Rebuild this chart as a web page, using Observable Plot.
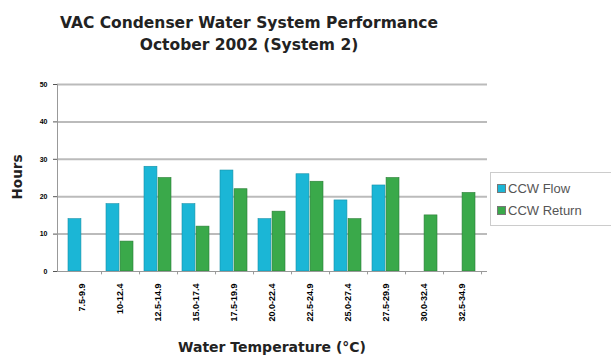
<!DOCTYPE html>
<html><head><meta charset="utf-8">
<script src="https://cdn.jsdelivr.net/npm/d3@7"></script>
<script src="https://cdn.jsdelivr.net/npm/@observablehq/plot@0.6"></script>
<style>
body{margin:0;background:#fff;font-family:"Liberation Sans",Arial,sans-serif;}
#wrap{position:relative;width:611px;height:356px;}
#title{position:absolute;left:0;width:498px;top:12px;text-align:center;font-family:"DejaVu Sans",sans-serif;font-weight:bold;font-size:15.5px;line-height:22px;color:#222;}
#legend{position:absolute;left:490px;top:172px;width:123px;height:54px;border:1px solid #ccc;box-sizing:border-box;font-size:13px;color:#555;padding-top:4px;}
#legend div{display:flex;align-items:center;height:22px;margin-left:6px;}
#legend span.sw{display:inline-block;width:7px;height:7px;margin-right:2px;border:1px solid #777;}
</style></head>
<body><div id="wrap">
<div id="title">VAC Condenser Water System Performance<br>October 2002 (System 2)</div>
<div id="chart"></div>
<div id="legend"></div>
</div>
<script>
const categories = ["7.5-9.9","10-12.4","12.5-14.9","15.0-17.4","17.5-19.9","20.0-22.4","22.5-24.9","25.0-27.4","27.5-29.9","30.0-32.4","32.5-34.9"];
const flow   = [14, 18, 28, 18, 27, 14, 26, 19, 23, null, null];
const ret    = [null, 8, 25, 12, 22, 16, 24, 14, 25, 15, 21];
const seriesNames = ["CCW Flow", "CCW Return"];
const seriesColors = ["#1bb6d6", "#3aa94a"];
const yTicks = [0, 10, 20, 30, 40, 50];

const flowData = categories.map((c, i) => ({cat: c, v: flow[i]})).filter(d => d.v != null);
const retData = categories.map((c, i) => ({cat: c, v: ret[i]})).filter(d => d.v != null);

const step = (611 - 57 - 124) / categories.length;
const bw = step * (1 - 0.28);
const half = bw / 2;

const plot = Plot.plot({
  width: 611, height: 356,
  marginLeft: 57, marginRight: 124, marginTop: 84, marginBottom: 85,
  style: {fontFamily: "Liberation Sans, Arial, sans-serif", background: "transparent"},
  x: {domain: categories, padding: 0.28, label: null},
  y: {domain: [0, 50], ticks: yTicks, label: null},
  marks: [
    Plot.ruleY(yTicks.filter(t => t > 0), {stroke: "#bbb", strokeWidth: 2}),
    Plot.barY(flowData, {x: "cat", y: "v", fill: seriesColors[0], stroke: "#1590a8", strokeWidth: 0.6, insetRight: half}),
    Plot.barY(retData, {x: "cat", y: "v", fill: seriesColors[1], stroke: "#2a7d36", strokeWidth: 0.6, insetLeft: half}),
    Plot.ruleY([0], {stroke: "#999", strokeWidth: 1}),
    Plot.ruleX(categories, {x: d => d, dx: step / 2, y1: 0, y2: -0.9, stroke: "#999"}),
    Plot.axisY({ticks: yTicks, tickSize: 4, tickPadding: 6, fontSize: 7, fontWeight: "bold", label: null, stroke: "#555"}),
    Plot.axisX({tickSize: 0, tickRotate: -90, tickPadding: 12, fontSize: 9, fontWeight: "bold", label: null}),
    Plot.frame({anchor: "left", stroke: "#999"})
  ]
});
document.getElementById("chart").appendChild(plot);

const svg = d3.select(plot);
svg.append("text").attr("x", 272).attr("y", 352).attr("text-anchor", "middle")
  .attr("font-family", "DejaVu Sans, sans-serif")
  .attr("font-size", 14).attr("font-weight", "bold").attr("fill", "#222").text("Water Temperature (°C)");
svg.append("text").attr("transform", "translate(22,177) rotate(-90)").attr("text-anchor", "middle")
  .attr("font-family", "DejaVu Sans, sans-serif")
  .attr("font-size", 13.5).attr("font-weight", "bold").attr("fill", "#222").text("Hours");

const lg = document.getElementById("legend");
seriesNames.forEach((n, i) => {
  const d = document.createElement("div");
  d.innerHTML = `<span class="sw" style="background:${seriesColors[i]}"></span>${n}`;
  lg.appendChild(d);
});
</script>
</body></html>
